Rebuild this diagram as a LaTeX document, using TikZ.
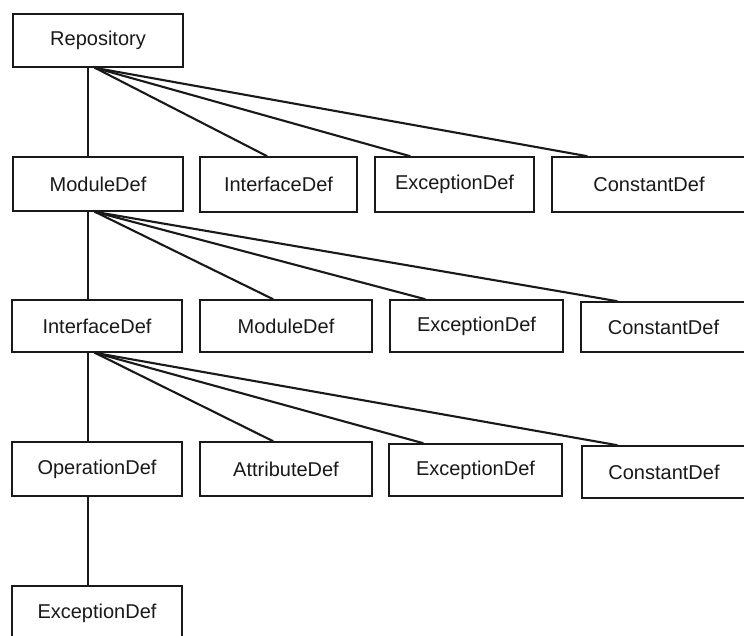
\documentclass[tikz,border=0pt]{standalone}
\usepackage{fontspec}
\setmainfont{Liberation Sans}
\begin{document}
\begin{tikzpicture}[x=1pt,y=-1pt,
  box/.style={draw=black!90, line width=1.7pt, inner sep=0pt, fill=white,
    font=\fontsize{20}{24}\selectfont, text=black!90},
  trunk/.style={draw=black!90, line width=1.4pt},
  fan/.style={draw=black!90, line width=2.1pt, line cap=round}]
\useasboundingbox (0,0) rectangle (744,635);

% level 1
\node[box, minimum width=170pt, minimum height=53pt] (rep) at (98,40.5) {Repository};

% level 2
\node[box, minimum width=170pt, minimum height=54pt] (modA) at (98,184) {ModuleDef};
\node[box, minimum width=157pt, minimum height=55pt] (ifA) at (278.5,184.5) {InterfaceDef};
\node[box, minimum width=159pt, minimum height=55pt] (excA) at (454.5,184.5) {ExceptionDef};
\node[box, minimum width=194pt, minimum height=55pt] (conA) at (649,184.5) {ConstantDef};

% level 3
\node[box, minimum width=170pt, minimum height=52pt] (ifB) at (97,326) {InterfaceDef};
\node[box, minimum width=172pt, minimum height=52pt] (modB) at (286,326) {ModuleDef};
\node[box, minimum width=173pt, minimum height=52pt] (excB) at (476.5,326) {ExceptionDef};
\node[box, minimum width=165pt, minimum height=50pt] (conB) at (663.5,327) {ConstantDef};

% level 4
\node[box, minimum width=170pt, minimum height=54pt] (opC) at (97,469) {OperationDef};
\node[box, minimum width=172pt, minimum height=54pt] (attC) at (286,469) {AttributeDef};
\node[box, minimum width=173pt, minimum height=52pt] (excC) at (475.5,470) {ExceptionDef};
\node[box, minimum width=164pt, minimum height=52pt] (conC) at (664,472) {ConstantDef};

% level 5
\node[box, minimum width=170pt, minimum height=54pt] (excD) at (97,613) {ExceptionDef};

% vertical trunk
\draw[trunk] ([xshift=-10pt]rep.south) -- ([xshift=-10pt]modA.north);
\draw[trunk] ([xshift=-10pt]modA.south) -- ([xshift=-9pt]ifB.north);
\draw[trunk] ([xshift=-9pt]ifB.south) -- ([xshift=-9pt]opC.north);
\draw[trunk] ([xshift=-9pt]opC.south) -- ([xshift=-9pt]excD.north);

% fans
\draw[fan] ([xshift=-3pt]rep.south) -- ([xshift=-11.5pt]ifA.north);
\draw[fan] ([xshift=-3pt]rep.south) -- ([xshift=-44.5pt]excA.north);
\draw[fan] ([xshift=-3pt]rep.south) -- ([xshift=-62pt]conA.north);

\draw[fan] ([xshift=-3pt]modA.south) -- ([xshift=-13pt]modB.north);
\draw[fan] ([xshift=-3pt]modA.south) -- ([xshift=-51.5pt]excB.north);
\draw[fan] ([xshift=-3pt]modA.south) -- ([xshift=-46.5pt]conB.north);

\draw[fan] ([xshift=-2pt]ifB.south) -- ([xshift=-13pt]attC.north);
\draw[fan] ([xshift=-2pt]ifB.south) -- ([xshift=-52.5pt]excC.north);
\draw[fan] ([xshift=-2pt]ifB.south) -- ([xshift=-47pt]conC.north);
\end{tikzpicture}
\end{document}
